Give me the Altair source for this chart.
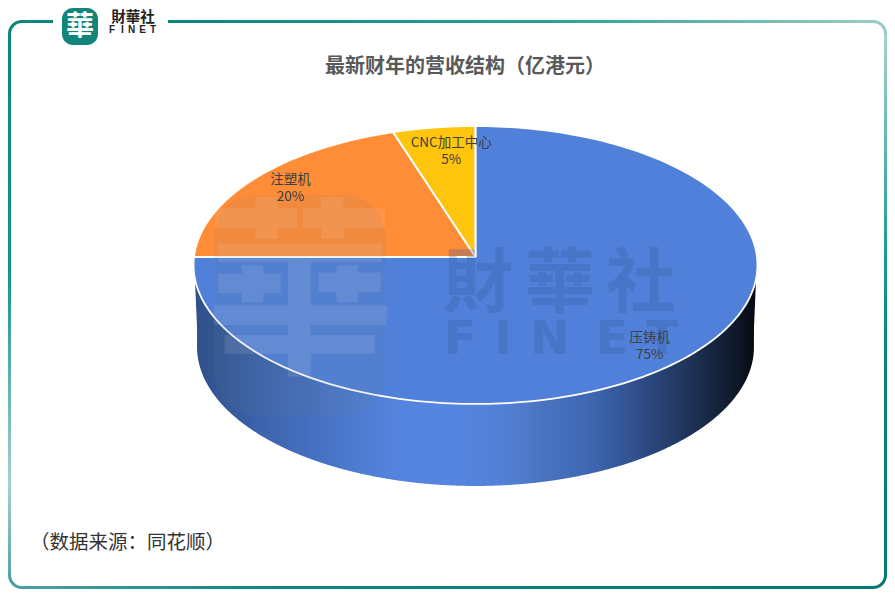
import numpy as np
import pandas as pd
import altair as alt

categories = ["压铸机", "注塑机", "CNC加工中心"]
shares = [75, 20, 5]
slice_colors = ["#5080D9", "#FF8C37", "#FFC40C"]

TITLE = "最新财年的营收结构（亿港元）"
SOURCE = "（数据来源：同花顺）"
W, H = 879, 583
CX, CY, A, B, K, DEPTH, A_LOW = 475.5, 257.0, 281.5, 138.5, 0.0576, 82.0, 278.0
CJK = "Noto Sans CJK SC"
TC = "Noto Sans CJK TC"


def rim(theta, a=A, cy=CY, r=1.0):
    u, v = r * np.sin(theta), r * np.cos(theta)
    d = 1 + K * v
    return CX + a * u / d, cy - B * v / d


def sections(px, py):
    """Turn a closed polygon into vertical x / y / y2 sections for an area mark."""
    px, py = np.asarray(px), np.asarray(py)
    xs = np.unique(np.concatenate([np.linspace(px.min() + 0.01, px.max() - 0.01, 500), px - 0.01, px + 0.01]))
    xs = xs[(xs >= px.min()) & (xs <= px.max())]
    qx, qy = np.roll(px, -1), np.roll(py, -1)
    rows = []
    for x in xs:
        m = (px - x) * (qx - x) < 0
        if m.sum() < 2:
            continue
        ys = py[m] + (x - px[m]) / (qx[m] - px[m]) * (qy[m] - py[m])
        rows.append((x, ys.min(), ys.max()))
    return pd.DataFrame(rows, columns=["x", "y", "y2"])


areas, outlines, labels = [], [], []
start = 0.0
for cat, sh in zip(categories, shares):
    t0, t1 = start / 100 * 2 * np.pi, (start + sh) / 100 * 2 * np.pi
    th = np.linspace(t0, t1, 220)
    rx, ry = rim(th)
    px, py = np.r_[CX, rx], np.r_[CY, ry]
    s = sections(px, py)
    s["cat"] = cat
    areas.append(s)
    outlines.append(pd.DataFrame({"x": np.r_[px, CX], "y": np.r_[py, CY], "i": np.arange(len(px) + 1), "cat": cat}))
    mid = (t0 + t1) / 2
    lx, ly = rim(mid, r=0.84)
    labels.append({"x": lx, "y": ly, "text": f"{cat}\n{sh}%", "cat": cat})
    start += sh
areas = pd.concat(areas)
outlines = pd.concat(outlines)
labels = pd.DataFrame(labels)

tw = np.linspace(np.pi / 2, 3 * np.pi / 2, 300)
ux, uy = rim(tw)
lx_, ly_ = rim(tw[::-1], a=A_LOW, cy=CY + DEPTH)
side = sections(np.r_[ux, lx_], np.r_[uy, ly_])

xs = alt.Scale(domain=[8, 8 + W], nice=False, zero=False)
ys = alt.Scale(domain=[8 + H, 8], nice=False, zero=False)
X = lambda f="x": alt.X(f"{f}:Q", scale=xs, axis=None)
Y = lambda f="y": alt.Y(f"{f}:Q", scale=ys, axis=None)
one = pd.DataFrame({"a": [0]})


def grad(stops, horizontal=True):
    return alt.Gradient(
        gradient="linear",
        stops=[alt.GradientStop(offset=o, color=c) for o, c in stops],
        x1=0, y1=0, x2=1 if horizontal else 0, y2=0 if horizontal else 1,
    )


def strip(x0, x1, y0, y1, stops, horizontal):
    return alt.Chart(one).mark_rect(color=grad(stops, horizontal)).encode(
        x=alt.value(x0 - 8), x2=alt.value(x1 - 8), y=alt.value(y0 - 8), y2=alt.value(y1 - 8))


def corner(cx, cy, t0, color):
    return alt.Chart(one).mark_arc(radius=14, radius2=11, theta=t0, theta2=t0 + np.pi / 2, color=color).encode(
        x=alt.value(cx - 8), y=alt.value(cy - 8))


def txt(s, x, y, size, color="#222222", font=CJK, weight="normal", opacity=1.0, align="center"):
    return alt.Chart(one).mark_text(text=s, fontSize=size, color=color, font=font, fontWeight=weight,
                                    opacity=opacity, align=align, baseline="middle").encode(
        x=alt.value(x - 8), y=alt.value(y - 8))


LEFT, RIGHT, TOP, BOT = 8, 887, 20, 589
DARK = "#0B8579"
frame = [
    strip(LEFT + 14, 53, TOP, TOP + 3, [(0, DARK), (1, DARK)], True),
    strip(168, RIGHT - 14, TOP, TOP + 3, [(0, DARK), (0.55, "#2F9F93"), (1, "#98CBC4")], True),
    strip(LEFT, LEFT + 3, TOP + 14, BOT - 14, [(0, DARK), (0.45, "#14958B"), (0.83, "#A8D0D0"), (1, "#5AA5A5")], False),
    strip(RIGHT - 3, RIGHT, TOP + 14, BOT - 14, [(0, "#A8D2CE"), (0.42, "#159A8E"), (0.6, "#0A8277"), (1, "#037B70")], False),
    strip(LEFT + 14, RIGHT - 14, BOT - 3, BOT, [(0, "#4AA0A0"), (0.3, "#0F8681"), (1, "#007A6E")], True),
    corner(LEFT + 14, TOP + 14, 3 * np.pi / 2, DARK),
    corner(RIGHT - 14, TOP + 14, 0, "#98CBC4"),
    corner(RIGHT - 14, BOT - 14, np.pi / 2, "#037B70"),
    corner(LEFT + 14, BOT - 14, np.pi, "#4AA0A0"),
]

logo = [
    alt.Chart(one).mark_rect(color="#12857A", cornerRadius=11).encode(
        x=alt.value(62 - 8), x2=alt.value(98 - 8), y=alt.value(0), y2=alt.value(45 - 8)),
    txt("華", 80, 28, 28, color="#FFFFFF", font=TC, weight="bold"),
    txt("財華社", 133, 18, 14.5, color="#222222", font=TC, weight="bold"),
]
for ch, lx0 in zip("FINET", [112, 122.5, 131.5, 142.5, 153]):
    logo.append(txt(ch, lx0, 30, 10, color="#222222", font="Liberation Sans", weight="bold"))

side_layer = alt.Chart(side).mark_area(
    color=grad([(0, "#2F4F88"), (0.12, "#3C63AD"), (0.25, "#4A76C8"), (0.35, "#5483DD"), (0.45, "#5585E0"),
                (0.55, "#5280D6"), (0.62, "#4A74C0"), (0.70, "#3F68B4"), (0.79, "#2F4D88"), (0.88, "#1E3358"),
                (0.97, "#0C1522"), (1, "#05080F")])
).encode(x=X(), y=Y(), y2="y2:Q")

color = alt.Color("cat:N", scale=alt.Scale(domain=categories, range=slice_colors), legend=None)
top_layer = alt.Chart(areas).mark_area().encode(x=X(), y=Y(), y2="y2:Q", color=color, detail="cat:N")
line_layer = alt.Chart(outlines).mark_line(color="#FFFFFF", strokeWidth=1.8).encode(
    x=X(), y=Y(), order="i:Q", detail="cat:N")

wm = [
    alt.Chart(one).mark_rect(color="#6E7F7F", opacity=0.10, cornerRadius=42).encode(
        x=alt.value(214 - 8), x2=alt.value(385 - 8), y=alt.value(195 - 8), y2=alt.value(415 - 8)),
    txt("華", 300, 302, 190, color="#FFFFFF", font=TC, weight="bold", opacity=0.09),
]
for ch, wx in zip("財華社", [478, 560, 641]):
    wm.append(txt(ch, wx, 286, 70, color="#33599A", font=TC, weight="bold", opacity=0.28))
for ch, wx in zip("FINET", [460, 503, 550, 612, 662]):
    wm.append(txt(ch, wx, 340, 47, color="#33599A", font="DejaVu Sans", weight="bold", opacity=0.28))

label_layers = []
for cat, nudge_x, nudge_y in zip(categories, [1, 1, 11], [-4, -11, -4]):
    label_layers.append(
        alt.Chart(labels[labels["cat"] == cat]).mark_text(
            fontSize=13.5, font=CJK, color="#404040", lineBreak="\n", lineHeight=17,
            baseline="middle", dx=nudge_x, dy=nudge_y
        ).encode(x=X(), y=Y(), text="text:N")
    )

chart = alt.layer(
    *frame, *logo,
    side_layer, top_layer, line_layer, *wm, *label_layers,
    txt(TITLE, 465, 67, 20, color="#595959", weight="bold"),
    txt(SOURCE, 30, 543, 19.5, color="#333333", align="left"),
).properties(width=W, height=H, padding=0, autosize=alt.AutoSizeParams(type="none")
).configure_view(stroke=None)

chart.save("out.html", embed_options={"renderer": "svg", "actions": False})
